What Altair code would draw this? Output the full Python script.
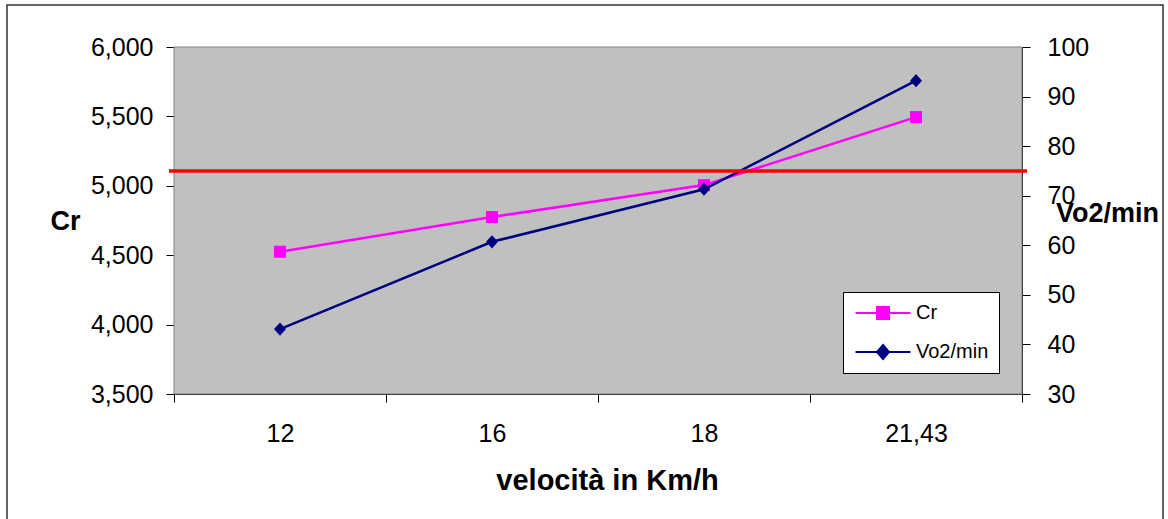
import altair as alt
import pandas as pd

# ---- data ----
speeds = ["12", "16", "18", "21,43"]
cr_values = [4525, 4775, 5005, 5495]
vo2_values = [43.1, 60.7, 71.3, 93.2]
vo2_threshold = 75
series_names = ["Cr", "Vo2/min"]
series_colors = ["#FF00FF", "#000080"]
cr_ticks = [3500, 4000, 4500, 5000, 5500, 6000]
vo2_ticks = [30, 40, 50, 60, 70, 80, 90, 100]

df = pd.DataFrame({"vel": speeds, "Cr": cr_values, "Vo2": vo2_values})
legend_df = pd.DataFrame({"series": series_names})
frame_df = pd.DataFrame({"k": [0]})
rule_df = pd.DataFrame({"t": [vo2_threshold]})

FONT = "Liberation Sans"
W, H = 848, 347

SQUARE = "M-1,-1H1V1H-1Z"
DIAMOND = "M0,-1.1L1,0L0,1.1L-1,0Z"
LEG_SQUARE = "M-2.75,0H2.75M-0.6,-0.6H0.6V0.6H-0.6Z"
LEG_DIAMOND = "M-2.75,0H2.75M0,-0.7L0.6,0L0,0.7L-0.6,0Z"

x_axis = alt.Axis(
    title="velocità in Km/h", labelAngle=0, tickBand="extent", tickSize=8,
    labelPadding=19, labelFontSize=25, labelFont=FONT, labelColor="black",
    titleFont=FONT, titleFontSize=29, titleFontWeight="bold", titleColor="black",
    titleX=433, titleAlign="center", titleY=86, titleBaseline="middle",
    domainColor="black", tickColor="black", grid=False,
)
x_enc = alt.X(
    "vel:O", sort=speeds, bandPosition=0.5,
    scale=alt.Scale(type="band", paddingInner=0, paddingOuter=0),
    axis=x_axis,
)

plot_bg = alt.Chart(frame_df).mark_rect(fill="#C0C0C0", stroke="#808080", strokeWidth=1).encode(
    x=alt.value(0), x2=alt.value(W), y=alt.value(0), y2=alt.value(H),
)

cr_line = alt.Chart(df).mark_line(
    color=series_colors[0], strokeWidth=2.5,
    point=alt.OverlayMarkDef(shape=SQUARE, size=144, filled=True,
                             color=series_colors[0], opacity=1),
).encode(
    x=x_enc,
    y=alt.Y("Cr:Q", scale=alt.Scale(domain=[3500, 6000], nice=False, zero=False),
            axis=alt.Axis(orient="left", values=cr_ticks, format=",.0f", title="Cr",
                          titleAngle=0, titleAlign="center", titleBaseline="middle",
                          titleX=-109, titleY=174, tickSize=8, labelPadding=13,
                          labelFontSize=25, labelFont=FONT, labelColor="black",
                          titleFont=FONT, titleFontSize=27, titleFontWeight="bold",
                          titleColor="black", domainColor="black", tickColor="black",
                          grid=False)),
)

vo2_line = alt.Chart(df).mark_line(
    color=series_colors[1], strokeWidth=2.5,
    point=alt.OverlayMarkDef(shape=DIAMOND, size=144, filled=True,
                             color=series_colors[1], opacity=1),
).encode(
    x=x_enc,
    y=alt.Y("Vo2:Q", scale=alt.Scale(domain=[30, 100], nice=False, zero=False),
            axis=alt.Axis(orient="right", values=vo2_ticks, format="d", title="Vo2/min",
                          titleAngle=0, titleAlign="center", titleBaseline="middle",
                          titleX=85, titleY=166, tickSize=8, labelPadding=17,
                          labelFontSize=25, labelFont=FONT, labelColor="black",
                          titleFont=FONT, titleFontSize=27, titleFontWeight="bold",
                          titleColor="black", domainColor="black", tickColor="black",
                          grid=False)),
)

red_rule = alt.Chart(rule_df).mark_rule(color="#FF0000", strokeWidth=3.5).encode(
    y=alt.Y("t:Q"),
    x=alt.value(-5),
    x2=alt.value(W + 5),
)

vo2_group = alt.layer(vo2_line, red_rule)

legend_layer = alt.Chart(legend_df).mark_point(filled=True, strokeWidth=2, opacity=1).encode(
    shape=alt.Shape("series:N", scale=alt.Scale(domain=series_names, range=[LEG_SQUARE, LEG_DIAMOND]),
                    legend=alt.Legend(title=None)),
    fill=alt.Fill("series:N", scale=alt.Scale(domain=series_names, range=series_colors),
                  legend=alt.Legend(title=None)),
    stroke=alt.Stroke("series:N", scale=alt.Scale(domain=series_names, range=series_colors),
                      legend=alt.Legend(title=None)),
).transform_filter("false")

frame = alt.Chart(frame_df).mark_rect(fill="transparent", stroke="#333333", strokeWidth=1.5).encode(
    x=alt.value(7 - 174), x2=alt.value(1163 - 174),
    y=alt.value(5 - 47), y2=alt.value(560 - 47),
)

chart = alt.layer(frame, plot_bg, cr_line, vo2_group, legend_layer).resolve_scale(
    y="independent"
).properties(
    width=W, height=H,
    background="white",
    autosize=alt.AutoSizeParams(type="none"),
    padding={"left": 174, "top": 47, "right": 1168 - 174 - W, "bottom": 519 - 47 - H},
).configure_view(
    stroke=None,
).configure_legend(
    orient="none", legendX=669, legendY=245,
    fillColor="white", strokeColor="black", padding=10,
    symbolSize=400, symbolStrokeWidth=2, symbolOffset=19,
    labelOffset=22, labelFontSize=20, labelFont=FONT, labelColor="black",
    rowPadding=18,
)

chart.save("out.html", embed_options={"renderer": "svg", "actions": False})
